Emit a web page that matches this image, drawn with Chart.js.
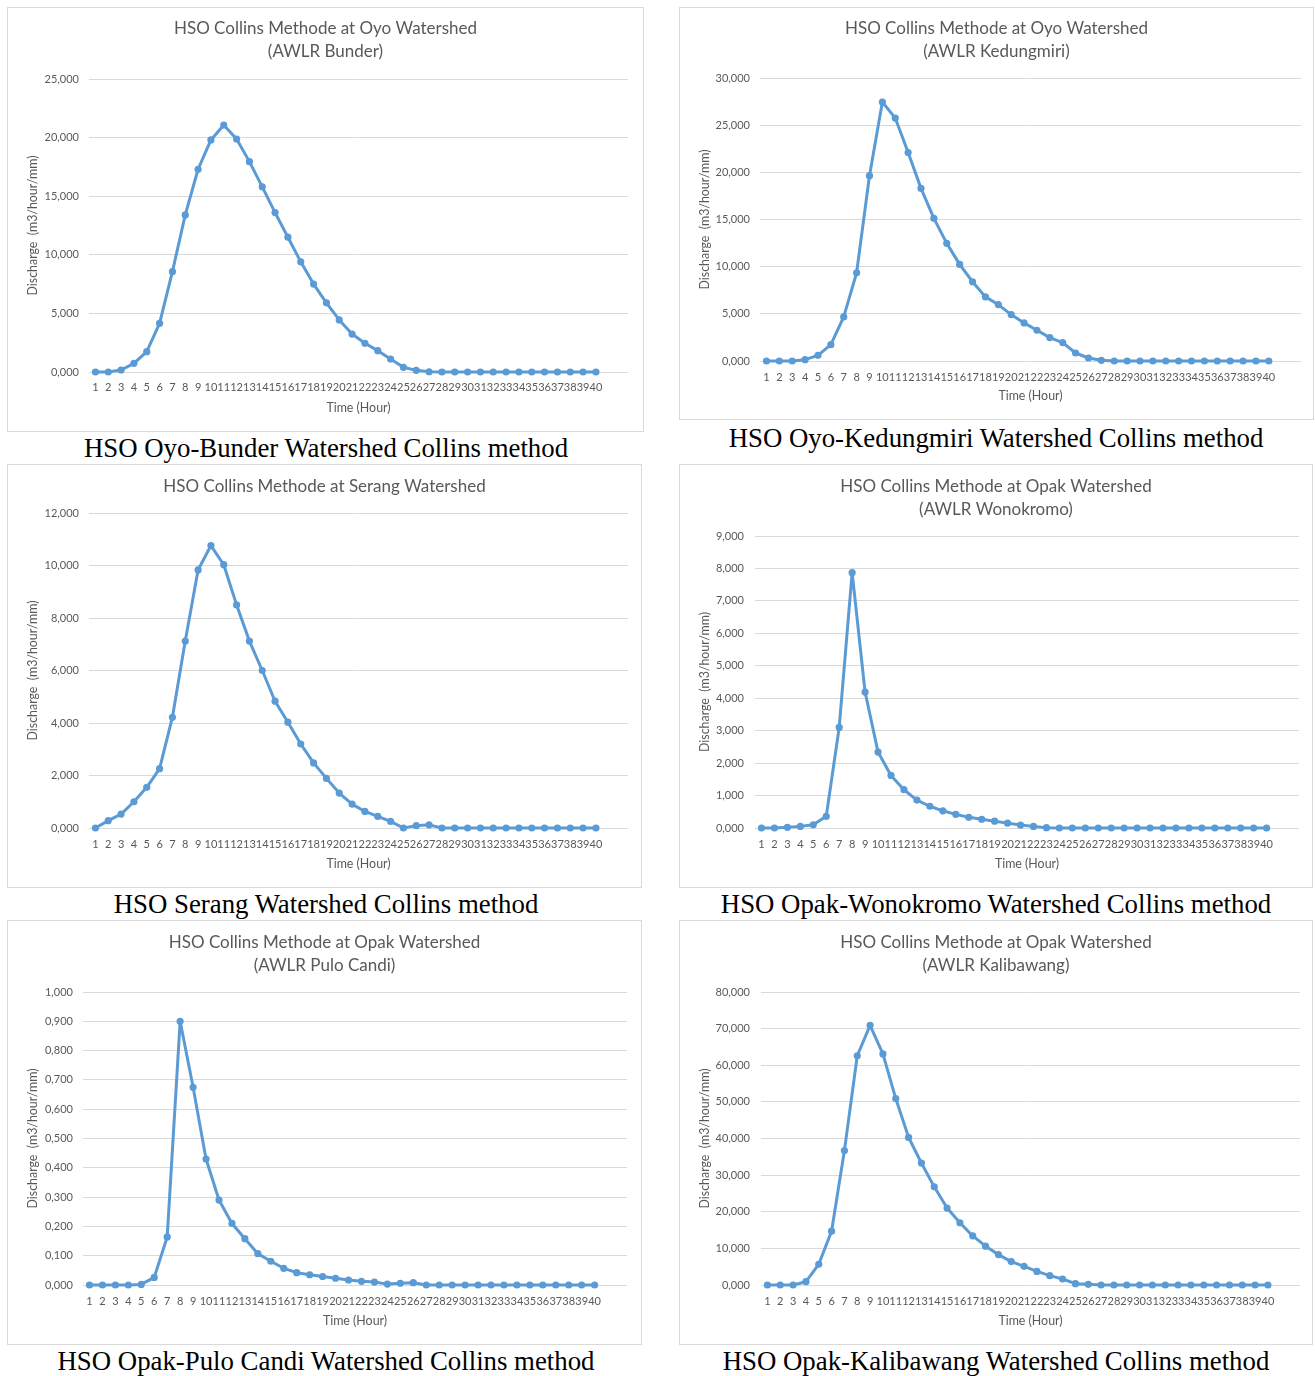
<!DOCTYPE html>
<html>
<head>
<meta charset="utf-8">
<script src="https://cdn.jsdelivr.net/npm/chart.js@4"></script>
<style>
  body { margin: 0; background: #fff; width: 1315px; height: 1376px; position: relative; overflow: hidden; }
  .box { position: absolute; border: 1px solid #d9d9d9; box-sizing: border-box; background: #fff; }
  .inner { position: absolute; left: 0; top: 0; }
  .cap { position: absolute; font-family: "Liberation Serif", "Times New Roman", serif; font-size: 26.8px; color: #000; white-space: nowrap; transform: translate(-50%, -50%); }
</style>
</head>
<body>
<script>
// time axis (hours)
const hours = [1,2,3,4,5,6,7,8,9,10,11,12,13,14,15,16,17,18,19,20,21,22,23,24,25,26,27,28,29,30,31,32,33,34,35,36,37,38,39,40];

// unit hydrograph ordinates, m3/hour/mm
const bunder     = [0,0,0.17,0.74,1.73,4.15,8.56,13.4,17.3,19.8,21.07,19.88,17.95,15.8,13.6,11.5,9.4,7.5,5.9,4.44,3.24,2.45,1.82,1.11,0.4,0.14,0.02,0,0,0,0,0,0,0,0,0,0,0,0,0];
const kedungmiri = [0,0,0,0.14,0.6,1.73,4.67,9.35,19.65,27.45,25.75,22.1,18.3,15.12,12.47,10.24,8.4,6.8,5.98,4.92,4.04,3.26,2.48,1.95,0.85,0.32,0.07,0,0,0,0,0,0,0,0,0,0,0,0,0];
const serang     = [0,0.28,0.53,1.0,1.55,2.26,4.22,7.12,9.83,10.76,10.03,8.5,7.12,6.0,4.83,4.03,3.2,2.48,1.89,1.33,0.91,0.63,0.44,0.25,0,0.09,0.12,0,0,0,0,0,0,0,0,0,0,0,0,0];
const wonokromo  = [0,0,0.02,0.05,0.1,0.36,3.1,7.87,4.19,2.34,1.62,1.18,0.86,0.67,0.53,0.42,0.33,0.27,0.21,0.15,0.09,0.05,0.01,0,0,0,0,0,0,0,0,0,0,0,0,0,0,0,0,0];
const puloCandi  = [0,0,0,0,0.002,0.026,0.164,0.9,0.675,0.43,0.29,0.21,0.158,0.107,0.081,0.057,0.042,0.035,0.029,0.023,0.017,0.0125,0.01,0.003,0.006,0.008,0,0,0,0,0,0,0,0,0,0,0,0,0,0];
const kalibawang = [0,0,0,0.9,5.66,14.7,36.7,62.6,70.9,63.1,50.9,40.3,33.3,26.8,21.0,17.0,13.4,10.6,8.3,6.4,5.1,3.7,2.55,1.64,0.36,0.18,0,0,0,0,0,0,0,0,0,0,0,0,0,0];

const series = [bunder, kedungmiri, serang, wonokromo, puloCandi, kalibawang];
const yMax   = [25, 30, 12, 9, 1, 80];
const yStep  = [5, 5, 2, 1, 0.1, 10];

const titles = [
  ["HSO Collins Methode at Oyo Watershed", "(AWLR Bunder)"],
  ["HSO Collins Methode at Oyo Watershed", "(AWLR Kedungmiri)"],
  ["HSO Collins Methode at Serang Watershed"],
  ["HSO Collins Methode at Opak Watershed", "(AWLR Wonokromo)"],
  ["HSO Collins Methode at Opak Watershed", "(AWLR Pulo Candi)"],
  ["HSO Collins Methode at Opak Watershed", "(AWLR Kalibawang)"]
];
const captions = [
  "HSO Oyo-Bunder Watershed Collins method",
  "HSO Oyo-Kedungmiri Watershed Collins method",
  "HSO Serang Watershed Collins method",
  "HSO Opak-Wonokromo Watershed Collins method",
  "HSO Opak-Pulo Candi Watershed Collins method",
  "HSO Opak-Kalibawang Watershed Collins method"
];
const xTitle = "Time (Hour)";
const yTitle = "Discharge  (m3/hour/mm)";

// page layout: box [x,y,w,h], plot [left,right,top,bottom], text positions
const panels = [
  { box: [7, 7, 637, 425],   plot: [89, 628, 79, 372],      titleY: 28,  yLab: 79,  yTit: 33,  xLab: 387,  xTit: 408,  cap: [326, 448] },
  { box: [679, 7, 635, 413], plot: [760, 1301, 78, 361],    titleY: 28,  yLab: 750, yTit: 705, xLab: 377,  xTit: 396,  cap: [996, 438] },
  { box: [7, 464, 635, 424], plot: [89, 628, 513, 828],     titleY: 486, yLab: 79,  yTit: 33,  xLab: 844,  xTit: 864,  cap: [326, 904] },
  { box: [679, 464, 634, 424], plot: [755, 1299, 536, 828], titleY: 486, yLab: 744, yTit: 705, xLab: 844,  xTit: 864,  cap: [996, 904] },
  { box: [7, 920, 635, 425], plot: [83, 627, 992, 1285],    titleY: 942, yLab: 73,  yTit: 33,  xLab: 1301, xTit: 1321, cap: [326, 1361] },
  { box: [679, 920, 634, 425], plot: [761, 1300, 992, 1285], titleY: 942, yLab: 750, yTit: 705, xLab: 1301, xTit: 1321, cap: [996, 1361] }
];

const grey = "#595959";
const blue = "#5b9bd5";
const tickFont = { family: "Lato", size: 11 };
const axisFont = { family: "Lato", size: 12.4 };
const titleLine = 23;

function makeChart(i) {
  const p = panels[i];
  const box = document.createElement("div");
  box.className = "box";
  box.style.left = p.box[0] + "px";
  box.style.top = p.box[1] + "px";
  box.style.width = p.box[2] + "px";
  box.style.height = p.box[3] + "px";
  const cw = p.box[2] - 2, ch = p.box[3] - 2;
  const cx = p.box[0] + 1, cy = p.box[1] + 1;
  const inner = document.createElement("div");
  inner.className = "inner";
  inner.style.width = cw + "px";
  inner.style.height = ch + "px";
  const canvas = document.createElement("canvas");
  inner.appendChild(canvas);
  box.appendChild(inner);
  document.body.appendChild(box);

  const cap = document.createElement("div");
  cap.className = "cap";
  cap.style.left = p.cap[0] + "px";
  cap.style.top = p.cap[1] + "px";
  cap.textContent = captions[i];
  document.body.appendChild(cap);

  const lines = titles[i];
  const padTop = p.titleY - cy - titleLine / 2 + 0.5;
  const padBottom = p.plot[2] - cy - padTop - lines.length * titleLine;
  const lh = 12.4 * 1.2 / 2;

  new Chart(canvas, {
    type: "line",
    data: {
      datasets: [{
        data: hours.map((h, k) => ({ x: h, y: series[i][k] })),
        borderColor: blue,
        backgroundColor: blue,
        borderWidth: 3,
        borderJoinStyle: "round",
        borderCapStyle: "round",
        pointRadius: 3.6,
        pointBorderWidth: 0,
        pointBackgroundColor: blue,
        tension: 0,
        clip: false
      }]
    },
    options: {
      responsive: true,
      maintainAspectRatio: false,
      animation: false,
      events: [],
      layout: { padding: 0 },
      plugins: {
        legend: { display: false },
        tooltip: { enabled: false },
        title: {
          display: true,
          text: lines,
          color: grey,
          font: { family: "Lato", size: 17, weight: "normal", lineHeight: titleLine / 17 },
          padding: { top: padTop, bottom: padBottom }
        }
      },
      scales: {
        x: {
          type: "linear",
          min: 0.5,
          max: 42.5,
          afterBuildTicks(s) { s.ticks = hours.map(h => ({ value: h })); },
          afterFit(s) { s.height = cy + ch - p.plot[3]; },
          ticks: {
            autoSkip: false, maxRotation: 0, minRotation: 0,
            padding: p.xLab - p.plot[3] - 6.6,
            color: grey, font: tickFont,
            callback: v => String(v)
          },
          grid: { display: false, drawTicks: false, tickLength: 0 },
          border: { display: false },
          title: {
            display: true, text: xTitle, color: grey, font: axisFont,
            padding: { top: 0, bottom: cy + ch - p.xTit - lh }
          }
        },
        y: {
          min: 0,
          max: yMax[i],
          afterFit(s) { s.width = p.plot[0] - cx; },
          ticks: {
            stepSize: yStep[i],
            padding: p.plot[0] - p.yLab,
            color: grey, font: tickFont,
            callback: v => v.toFixed(3).replace(".", ",")
          },
          grid: { color: "#d9d9d9", lineWidth: 1, drawTicks: false, tickLength: 0 },
          border: { display: false },
          title: {
            display: true, text: yTitle, color: grey, font: axisFont,
            padding: { top: p.yTit - cx - lh, bottom: 0 }
          }
        },
        // empty right-hand margin so the title stays centred on the whole box
        margin: {
          type: "linear",
          position: "right",
          afterFit(s) { s.width = cx + cw - p.plot[1]; },
          ticks: { display: false },
          grid: { display: false, drawTicks: false, tickLength: 0 },
          border: { display: false }
        }
      }
    }
  });
}

for (let i = 0; i < 6; i++) makeChart(i);
</script>
</body>
</html>
